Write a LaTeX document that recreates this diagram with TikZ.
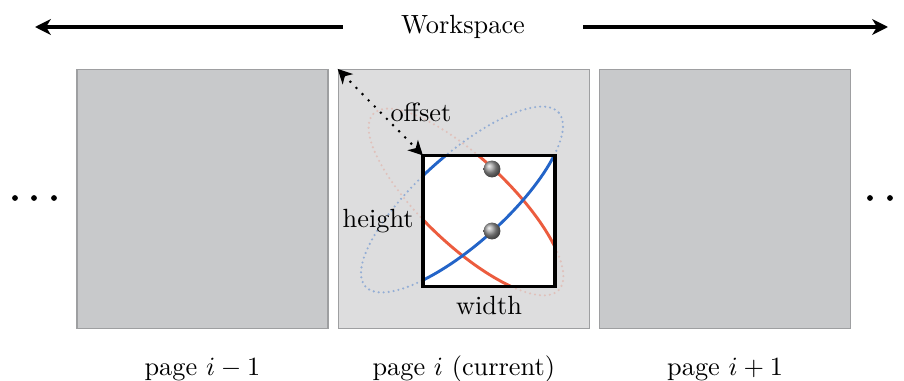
\documentclass[tikz,border=0pt]{standalone}
\usepackage{amsmath}
\usepackage{xcolor}
\usepackage{tikz}
\usetikzlibrary{arrows.meta,positioning,calc}

\definecolor{pagegray}{RGB}{200,201,203}
\definecolor{currentgray}{RGB}{221,221,222}
\definecolor{framegray}{RGB}{158,159,161}
\definecolor{curveblue}{RGB}{35,100,200}
\definecolor{curvered}{RGB}{236,92,62}

\begin{document}
\begin{tikzpicture}
  [
    x=0.38pt, y=-0.38pt,
    page/.style={rectangle,draw=framegray,fill=pagegray,line width=0.5pt,inner sep=0pt,minimum width=95.4pt,minimum height=98.4pt},
    current/.style={page,fill=currentgray},
    window/.style={rectangle,fill=white,inner sep=0pt,minimum width=49.8pt,minimum height=49.4pt},
    workarrow/.style={line width=1.15pt,-{Stealth[length=6pt,width=6pt,inset=1.8pt]}},
    offsetarrow/.style={line width=1.1pt,line cap=round,dash pattern=on 0pt off 3.3pt,{Stealth[length=5.5pt,width=5.5pt,inset=1.6pt]}-{Stealth[length=5.5pt,width=5.5pt,inset=1.6pt]}},
    faint/.style={line width=0.9pt,line cap=round,dash pattern=on 0pt off 1.9pt},
    curve/.style={line width=1.1pt},
    marker/.style={circle,inner sep=0pt,minimum size=6.4pt,shading=ball,ball color=gray!80}
  ]
  \useasboundingbox (0,0) rectangle (904,381);

  % the three pages of the workspace
  \node[page] (prev) at (202.5,199) {};
  \node[current] (cur) [right = 3.4pt of prev] {};
  \node[page] (next) [right = 3.4pt of cur] {};

  % workspace extent
  \node[inner xsep=22pt] (ws) at (463,27) {Workspace};
  \coordinate (wsleft) at (35,27);
  \coordinate (wsright) at (888,27);
  \draw[workarrow] (ws.west) -- (wsleft);
  \draw[workarrow] (ws.east) -- (wsright);

  % more pages on both sides
  \foreach \x in {15,34,54}
    \fill (\x,198) circle (1.1pt);
  \foreach \x in {870,890}
    \fill (\x,198) circle (1.1pt);

  % curves on the current page
  \coordinate (bluec) at (462,199.5);
  \coordinate (redc) at (466,202);
  \draw[faint,draw=curveblue!40!currentgray,rotate around={42:(bluec)}] (bluec) ellipse (49.4pt and 16.7pt);
  \draw[faint,draw=curvered!22!currentgray,rotate around={-43.5:(redc)}] (redc) ellipse (48.6pt and 16.3pt);

  % visible window
  \node[window] (win) at (489,221) {};
  \begin{scope}
    \clip (win.south west) rectangle (win.north east);
    \draw[curve,curvered,rotate around={-43.5:(redc)}] (redc) ellipse (48.6pt and 16.3pt);
    \draw[curve,curveblue,rotate around={42:(bluec)}] (bluec) ellipse (49.4pt and 16.7pt);
  \end{scope}
  \draw[line width=1.2pt] (win.south west) rectangle (win.north east);
  \node[marker] (upper) at (492,169) {};
  \node[marker] (lower) at (492,231) {};

  \draw[offsetarrow] (cur.north west) -- node[right] (offsetlabel) {offset} (win.north west);
  \node[left] (heightlabel) at (win.west) {height};
  \node[below] (widthlabel) at (win.south) {width};

  % page captions
  \coordinate (captionline) at (0,375);
  \node[anchor=base] (prevlabel) at (prev |- captionline) {page $i-1$};
  \node[anchor=base] (curlabel) at (cur |- captionline) {page $i$ (current)};
  \node[anchor=base] (nextlabel) at (next |- captionline) {page $i+1$};
\end{tikzpicture}
\end{document}
